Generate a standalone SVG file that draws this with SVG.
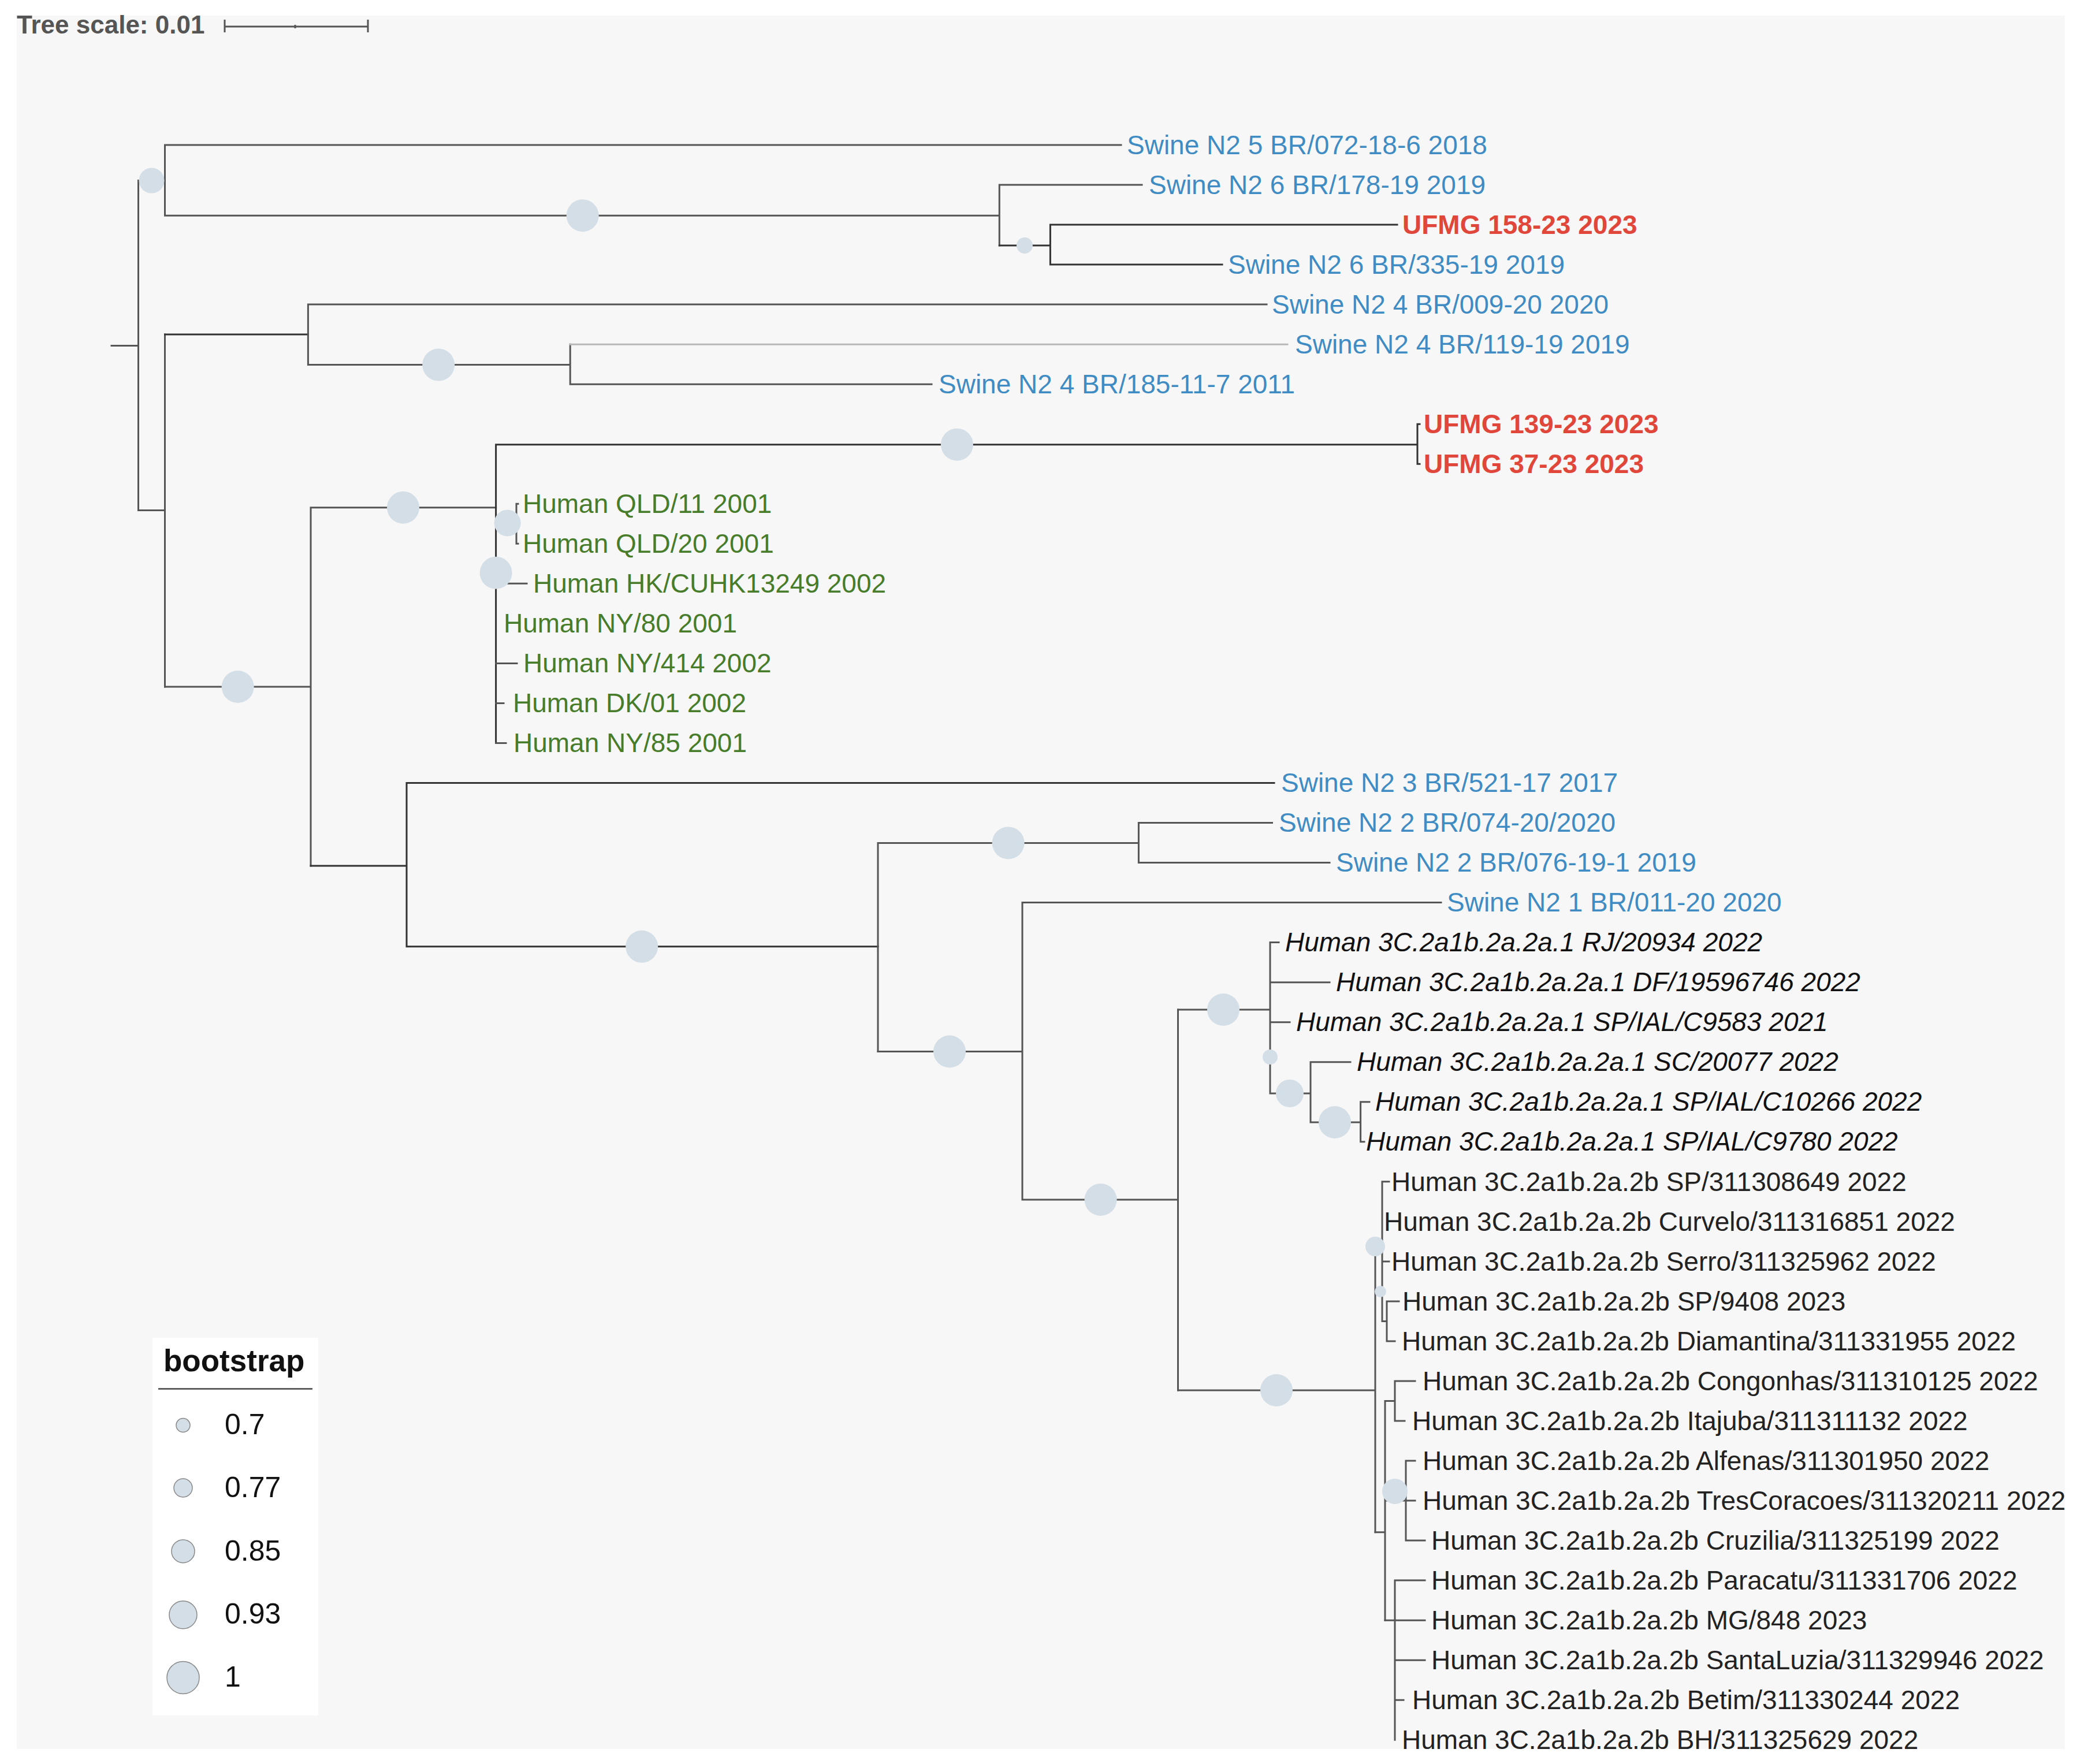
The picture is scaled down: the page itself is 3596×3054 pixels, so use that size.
<svg xmlns="http://www.w3.org/2000/svg" width="3596" height="3054" viewBox="0 0 3596 3054">
<defs>
<clipPath id="panel"><rect x="29" y="27" width="3546" height="3001"/></clipPath>
<style>
.br{fill:none;stroke:#555;stroke-width:3;stroke-linecap:square}
.dk{stroke:#333}
.lt{stroke:#b8b8b8}
.bs{fill:#d3dee6}
.lg{fill:#d3dee6;stroke:#888;stroke-width:1.5}
text{font-family:'Liberation Sans',Arial,Helvetica,sans-serif;font-size:46px}
.sw{fill:#3f8cc4}
.uf{fill:#e0473a;font-weight:bold}
.hg{fill:#467c2a}
.hi{fill:#111;font-style:italic}
.hb{fill:#222}
</style>
</defs>
<rect x="0" y="0" width="3596" height="3054" fill="#ffffff"/>
<rect x="29" y="27" width="3546" height="3001" fill="#f7f7f7"/>
<g clip-path="url(#panel)">
<g id="connectors">
<path class="br" d="M193 598.6H239.5M239.5 312.6V883.6"/>
<path class="br" d="M239.5 312.6H285.5M285.5 251V373.2M285.5 251H1941M285.5 373.2H1730.3M1730.3 320V425M1730.3 320H1977"/>
<path class="br dk" d="M1730.3 425H1818.4M1818.4 389.1V458.1M1818.4 389.1H2419M1818.4 458.1H2116"/>
<path class="br" d="M239.5 883.6H285.5M285.5 579V1189"/>
<path class="br dk" d="M285.5 579H533.4"/>
<path class="br" d="M533.4 527.1V631.6M533.4 527.1H2193M533.4 631.6H987.2M987.2 596.2V665.2M987.2 665.2H1613"/>
<path class="br lt" d="M987.2 596.2H2229"/>
<path class="br" d="M285.5 1189H538M538 878.7V1499M538 878.7H858.6"/>
<path class="br dk" d="M858.6 769.7V1286.5M858.6 769.7H2454M2454 734.2V803.2M2454 734.2H2458M2454 803.2H2458"/>
<path class="br" d="M858.6 906.8H894M894 872.3V941.3M894 872.3H897M894 941.3H897M858.6 1010.3H912M858.6 1148.4H895M858.6 1217.4H872M858.6 1286.5H876"/>
<path class="br dk" d="M538 1499H704M704 1355.5V1638.8M704 1355.5H2206M704 1638.8H1520"/>
<path class="br" d="M1520 1459.4V1820.5M1520 1459.4H1971.4M1971.4 1424.5V1493.6M1971.4 1424.5H2202.5M1971.4 1493.6H2302"/>
<path class="br" d="M1520 1820.5H1770M1770 1562.6V2077M1770 1562.6H2495M1770 2077H2039.5M2039.5 1748V2407"/>
<path class="br" d="M2039.5 1748H2199M2199 1631.6V1893M2199 1631.6H2214M2199 1700.7H2302M2199 1769.7H2233M2199 1893H2269M2269 1838.7V1943M2269 1838.7H2338M2269 1943H2355.6M2355.6 1907.8V1976.8M2355.6 1907.8H2371M2355.6 1976.8H2362"/>
<path class="br" d="M2039.5 2407H2381M2381 2158V2652.7M2381 2158H2393M2393 2045.8V2287.4M2393 2045.8H2405M2393 2183.9H2405M2393 2287.4H2401M2401 2252.9V2321.9M2401 2252.9H2422M2401 2321.9H2415"/>
<path class="br" d="M2381 2652.7H2398M2398 2425.5V2805.2M2398 2425.5H2415M2415 2391V2460M2415 2391H2450M2415 2460H2432M2398 2598.1H2434M2434 2529V2667.1M2434 2529H2450M2434 2598.1H2450M2434 2667.1H2467"/>
<path class="br" d="M2398 2805.2H2467M2415 2736.1V3012.2M2415 2736.1H2467M2415 2874.2H2467M2415 2943.2H2430"/>
</g>
<g id="node-root"><circle class="bs" cx="262.5" cy="312.6" r="22"/></g>
<g id="node-B"><circle class="bs" cx="1008.7" cy="373.2" r="28"/></g>
<g id="node-C"><circle class="bs" cx="1774" cy="425" r="14"/></g>
<g id="node-F"><circle class="bs" cx="759.2" cy="631.6" r="28"/></g>
<g id="node-I"><circle class="bs" cx="1656.9" cy="769.7" r="28"/></g>
<g id="node-H"><circle class="bs" cx="698" cy="878.7" r="28"/></g>
<g id="node-QLD"><circle class="bs" cx="878.6" cy="905.4" r="23"/></g>
<g id="node-HUM"><circle class="bs" cx="858.6" cy="991.7" r="28"/></g>
<g id="node-G"><circle class="bs" cx="411.7" cy="1189" r="28"/></g>
<g id="node-K"><circle class="bs" cx="1111.2" cy="1638.8" r="28"/></g>
<g id="node-L"><circle class="bs" cx="1745.6" cy="1459.4" r="28"/></g>
<g id="node-M"><circle class="bs" cx="1644" cy="1820.5" r="28"/></g>
<g id="node-N"><circle class="bs" cx="1905.6" cy="2077" r="28"/></g>
<g id="node-O"><circle class="bs" cx="2118" cy="1748" r="28"/></g>
<g id="node-P"><circle class="bs" cx="2199" cy="1830" r="13"/></g>
<g id="node-Q"><circle class="bs" cx="2233" cy="1893" r="24"/></g>
<g id="node-R"><circle class="bs" cx="2311" cy="1943" r="28"/></g>
<g id="node-S"><circle class="bs" cx="2210" cy="2407" r="28"/></g>
<g id="node-W"><circle class="bs" cx="2381" cy="2158" r="17"/></g>
<g id="node-Y"><circle class="bs" cx="2390" cy="2236" r="10"/></g>
<g id="node-T"><circle class="bs" cx="2415" cy="2582" r="22"/></g>

<g id="tip-1"><text class="sw" x="1951" y="267">Swine N2 5 BR/072-18-6 2018</text></g>
<g id="tip-2"><text class="sw" x="1989" y="336">Swine N2 6 BR/178-19 2019</text></g>
<g id="tip-3"><text class="uf" x="2428" y="405">UFMG 158-23 2023</text></g>
<g id="tip-4"><text class="sw" x="2126" y="474">Swine N2 6 BR/335-19 2019</text></g>
<g id="tip-5"><text class="sw" x="2202" y="543">Swine N2 4 BR/009-20 2020</text></g>
<g id="tip-6"><text class="sw" x="2242" y="612">Swine N2 4 BR/119-19 2019</text></g>
<g id="tip-7"><text class="sw" x="1625" y="681">Swine N2 4 BR/185-11-7 2011</text></g>
<g id="tip-8"><text class="uf" x="2465" y="750">UFMG 139-23 2023</text></g>
<g id="tip-9"><text class="uf" x="2465" y="819">UFMG 37-23 2023</text></g>
<g id="tip-10"><text class="hg" x="905" y="888">Human QLD/11 2001</text></g>
<g id="tip-11"><text class="hg" x="905" y="957">Human QLD/20 2001</text></g>
<g id="tip-12"><text class="hg" x="923" y="1026">Human HK/CUHK13249 2002</text></g>
<g id="tip-13"><text class="hg" x="872" y="1095">Human NY/80 2001</text></g>
<g id="tip-14"><text class="hg" x="906" y="1164">Human NY/414 2002</text></g>
<g id="tip-15"><text class="hg" x="888" y="1233">Human DK/01 2002</text></g>
<g id="tip-16"><text class="hg" x="889" y="1302">Human NY/85 2001</text></g>
<g id="tip-17"><text class="sw" x="2218" y="1371">Swine N2 3 BR/521-17 2017</text></g>
<g id="tip-18"><text class="sw" x="2214" y="1440">Swine N2 2 BR/074-20/2020</text></g>
<g id="tip-19"><text class="sw" x="2313" y="1509">Swine N2 2 BR/076-19-1 2019</text></g>
<g id="tip-20"><text class="sw" x="2505" y="1578">Swine N2 1 BR/011-20 2020</text></g>
<g id="tip-21"><text class="hi" x="2225" y="1647">Human 3C.2a1b.2a.2a.1 RJ/20934 2022</text></g>
<g id="tip-22"><text class="hi" x="2313" y="1716">Human 3C.2a1b.2a.2a.1 DF/19596746 2022</text></g>
<g id="tip-23"><text class="hi" x="2244" y="1785">Human 3C.2a1b.2a.2a.1 SP/IAL/C9583 2021</text></g>
<g id="tip-24"><text class="hi" x="2349" y="1854">Human 3C.2a1b.2a.2a.1 SC/20077 2022</text></g>
<g id="tip-25"><text class="hi" x="2381" y="1923">Human 3C.2a1b.2a.2a.1 SP/IAL/C10266 2022</text></g>
<g id="tip-26"><text class="hi" x="2365" y="1992">Human 3C.2a1b.2a.2a.1 SP/IAL/C9780 2022</text></g>
<g id="tip-27"><text class="hb" x="2409" y="2062">Human 3C.2a1b.2a.2b SP/311308649 2022</text></g>
<g id="tip-28"><text class="hb" x="2396" y="2131">Human 3C.2a1b.2a.2b Curvelo/311316851 2022</text></g>
<g id="tip-29"><text class="hb" x="2409" y="2200">Human 3C.2a1b.2a.2b Serro/311325962 2022</text></g>
<g id="tip-30"><text class="hb" x="2428" y="2269">Human 3C.2a1b.2a.2b SP/9408 2023</text></g>
<g id="tip-31"><text class="hb" x="2427" y="2338">Human 3C.2a1b.2a.2b Diamantina/311331955 2022</text></g>
<g id="tip-32"><text class="hb" x="2463" y="2407">Human 3C.2a1b.2a.2b Congonhas/311310125 2022</text></g>
<g id="tip-33"><text class="hb" x="2445" y="2476">Human 3C.2a1b.2a.2b Itajuba/311311132 2022</text></g>
<g id="tip-34"><text class="hb" x="2463" y="2545">Human 3C.2a1b.2a.2b Alfenas/311301950 2022</text></g>
<g id="tip-35"><text class="hb" x="2463" y="2614">Human 3C.2a1b.2a.2b TresCoracoes/311320211 2022</text></g>
<g id="tip-36"><text class="hb" x="2478" y="2683">Human 3C.2a1b.2a.2b Cruzilia/311325199 2022</text></g>
<g id="tip-37"><text class="hb" x="2478" y="2752">Human 3C.2a1b.2a.2b Paracatu/311331706 2022</text></g>
<g id="tip-38"><text class="hb" x="2478" y="2821">Human 3C.2a1b.2a.2b MG/848 2023</text></g>
<g id="tip-39"><text class="hb" x="2478" y="2890">Human 3C.2a1b.2a.2b SantaLuzia/311329946 2022</text></g>
<g id="tip-40"><text class="hb" x="2445" y="2959">Human 3C.2a1b.2a.2b Betim/311330244 2022</text></g>
<g id="tip-41"><text class="hb" x="2427" y="3028">Human 3C.2a1b.2a.2b BH/311325629 2022</text></g>
</g>

<g id="scale">
<text x="29" y="58" style="font-size:44px;font-weight:bold;fill:#555">Tree scale: 0.01</text>
<path d="M389 46H637M389 34V56M637 34V56M511 43V49" fill="none" stroke="#555" stroke-width="3"/>
</g>

<g id="legend">
<rect x="264" y="2316" width="287" height="654" fill="#ffffff"/>
<text x="283" y="2374" style="font-size:53px;font-weight:bold;fill:#111">bootstrap</text>
<path d="M274 2404.5H541" stroke="#444" stroke-width="2.5"/>
<circle class="lg" cx="317" cy="2467.6" r="12"/>
<text x="389" y="2483" style="font-size:50px;fill:#111">0.7</text>
<circle class="lg" cx="317" cy="2576" r="16"/>
<text x="389" y="2592" style="font-size:50px;fill:#111">0.77</text>
<circle class="lg" cx="317" cy="2685.7" r="20"/>
<text x="389" y="2702" style="font-size:50px;fill:#111">0.85</text>
<circle class="lg" cx="317" cy="2795.8" r="24"/>
<text x="389" y="2811" style="font-size:50px;fill:#111">0.93</text>
<circle class="lg" cx="317" cy="2904.4" r="28"/>
<text x="389" y="2920" style="font-size:50px;fill:#111">1</text>
</g>
</svg>
